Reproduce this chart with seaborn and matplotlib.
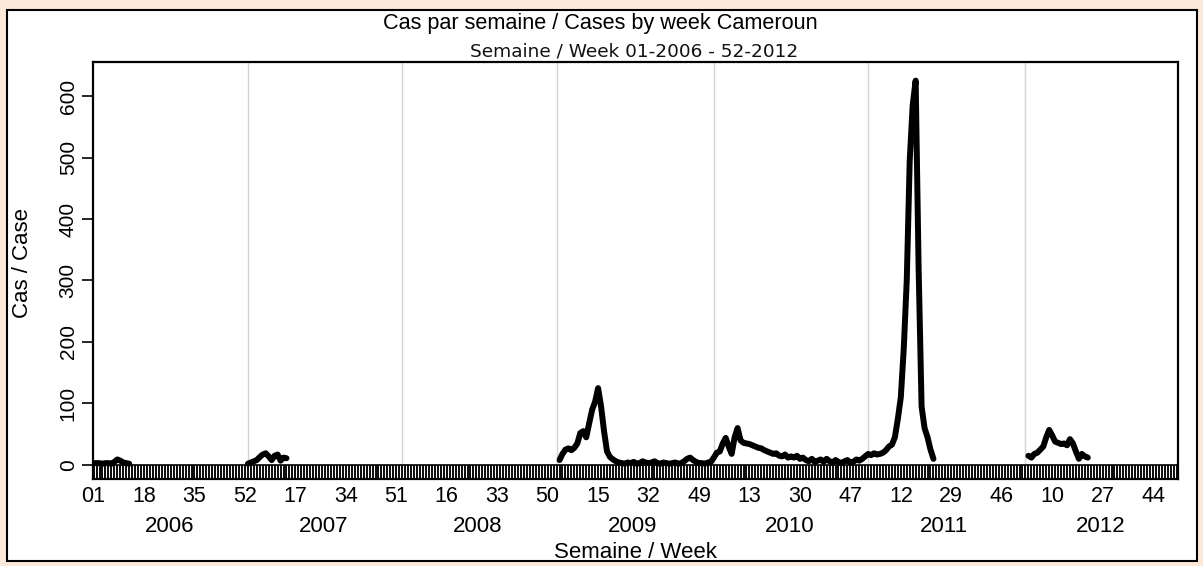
import numpy as np
import pandas as pd
import matplotlib.pyplot as plt
import seaborn as sns
from matplotlib.patches import Rectangle

# weekly cases, index 0 = week 01-2006 ; gaps = no report
n_weeks = 366
seg_2006_start = 0
seg_2006 = [3, 3, 3, 2, 3, 3, 2, 5, 9, 7, 4, 3, 2]
seg_2007_start = 52
seg_2007 = [2, 4, 6, 8, 13, 17, 19, 14, 8, 15, 17, 7, 12, 11]
seg_2009_start = 157
seg_2009 = [8, 18, 25, 27, 24, 28, 35, 52, 55, 45, 68, 90, 103, 125, 95, 55, 22, 13,
            9, 6, 4, 3, 2,
            4, 3, 5, 2, 3, 6, 4, 3, 4, 6, 3, 2, 4, 3, 2, 3, 4, 2, 3, 6, 10, 12, 8, 5, 3,
            3, 2, 4, 5,
            12, 20, 22, 35, 44, 30, 18, 45, 60, 40, 36, 35, 34, 32, 30, 28, 27, 24, 22, 20,
            18, 19, 15, 14, 17, 12, 14, 12, 15, 10, 12, 8, 6, 10, 5, 7, 9, 5, 10, 6,
            4, 8, 5, 3, 6, 8, 4, 5, 9, 7, 10, 14, 18, 16, 19, 17,
            18, 20, 24, 30, 33, 45, 75, 110, 190, 300, 495, 585, 625, 320, 95, 60, 45, 25, 10]
seg_2012_start = 315
seg_2012 = [15, 12, 18, 20, 25, 30, 45, 57, 48, 38, 36, 34, 35, 32, 42, 35, 22, 10, 18, 14, 12]

year_labels = ['2006', '2007', '2008', '2009', '2010', '2011', '2012']
year_starts = [0, 52, 104, 156, 209, 261, 314]
tick_pos = list(range(0, 358, 17))
tick_labels = ['01', '18', '35', '52', '17', '34', '51', '16', '33', '50', '15',
               '32', '49', '13', '30', '47', '12', '29', '46', '10', '27', '44']

rows = []
for seg_id, (start, vals) in enumerate([(seg_2006_start, seg_2006), (seg_2007_start, seg_2007),
                                        (seg_2009_start, seg_2009), (seg_2012_start, seg_2012)]):
    for i, v in enumerate(vals):
        rows.append({'week': start + i, 'cases': v, 'segment': seg_id})
df = pd.DataFrame(rows)

sns.set_style('white')
plt.rcParams['font.family'] = ['Liberation Sans', 'DejaVu Sans']
plt.rcParams['text.color'] = 'black'
plt.rcParams['axes.labelcolor'] = 'black'
plt.rcParams['xtick.color'] = 'black'
plt.rcParams['ytick.color'] = 'black'

W, H = 1203, 566
fig = plt.figure(figsize=(W / 100, H / 100), dpi=100, facecolor='#FDE9D9')
fig.add_artist(Rectangle((7 / W, 1 - 561 / H), (1197 - 7) / W, (561 - 10) / H,
                         transform=fig.transFigure, facecolor='white',
                         edgecolor='black', lw=1.5, zorder=-10))

ax = fig.add_axes([93 / W, 1 - 479 / H, (1178 - 93) / W, (479 - 62) / H])

ax.vlines(year_starts[1:], 0, 700, color='#d4d4d4', lw=1, zorder=1)
ax.axhline(0, color='black', lw=1.2, zorder=2)

sns.lineplot(data=df, x='week', y='cases', units='segment', estimator=None,
             color='black', lw=4.3, ax=ax, zorder=3)

ax.set_xlim(-0.2, 365.4)
ax.set_ylim(-22.8, 655.3)

ax.set_xticks(tick_pos)
ax.set_xticklabels(tick_labels)
ax.set_xticks(range(n_weeks), minor=True)
ax.tick_params(axis='x', which='both', direction='in', length=10, width=1.35,
               color='black', bottom=True)
ax.tick_params(axis='x', which='major', labelsize=15.5, pad=5)

ax.set_yticks(range(0, 700, 100))
ax.tick_params(axis='y', direction='out', length=8, width=1.2, pad=3,
               labelsize=15, labelrotation=90, left=True)
for lab in ax.get_yticklabels():
    lab.set_va('center')

for sp in ax.spines.values():
    sp.set_color('black')
    sp.set_linewidth(1.6)

for yr, s in zip(year_labels, year_starts):
    ax.text(s + 25.5, -0.114, yr, transform=ax.get_xaxis_transform(),
            ha='center', va='center', fontsize=16)

ax.set_xlabel('Semaine / Week', fontsize=16)
ax.xaxis.set_label_coords(0.5, -0.152)
ax.set_ylabel('Cas / Case', fontsize=16)
ax.yaxis.set_label_coords(-0.055, 0.518)

fig.text(600 / W, 1 - 23.5 / H, 'Cas par semaine / Cases by week Cameroun',
         ha='center', va='center', fontsize=15.6)
fig.text(634 / W, 1 - 51 / H, 'Semaine / Week 01-2006 - 52-2012',
         ha='center', va='center', fontsize=13.3, family='DejaVu Sans', color='#111111')

fig.savefig('out.png', dpi=100, facecolor=fig.get_facecolor())
